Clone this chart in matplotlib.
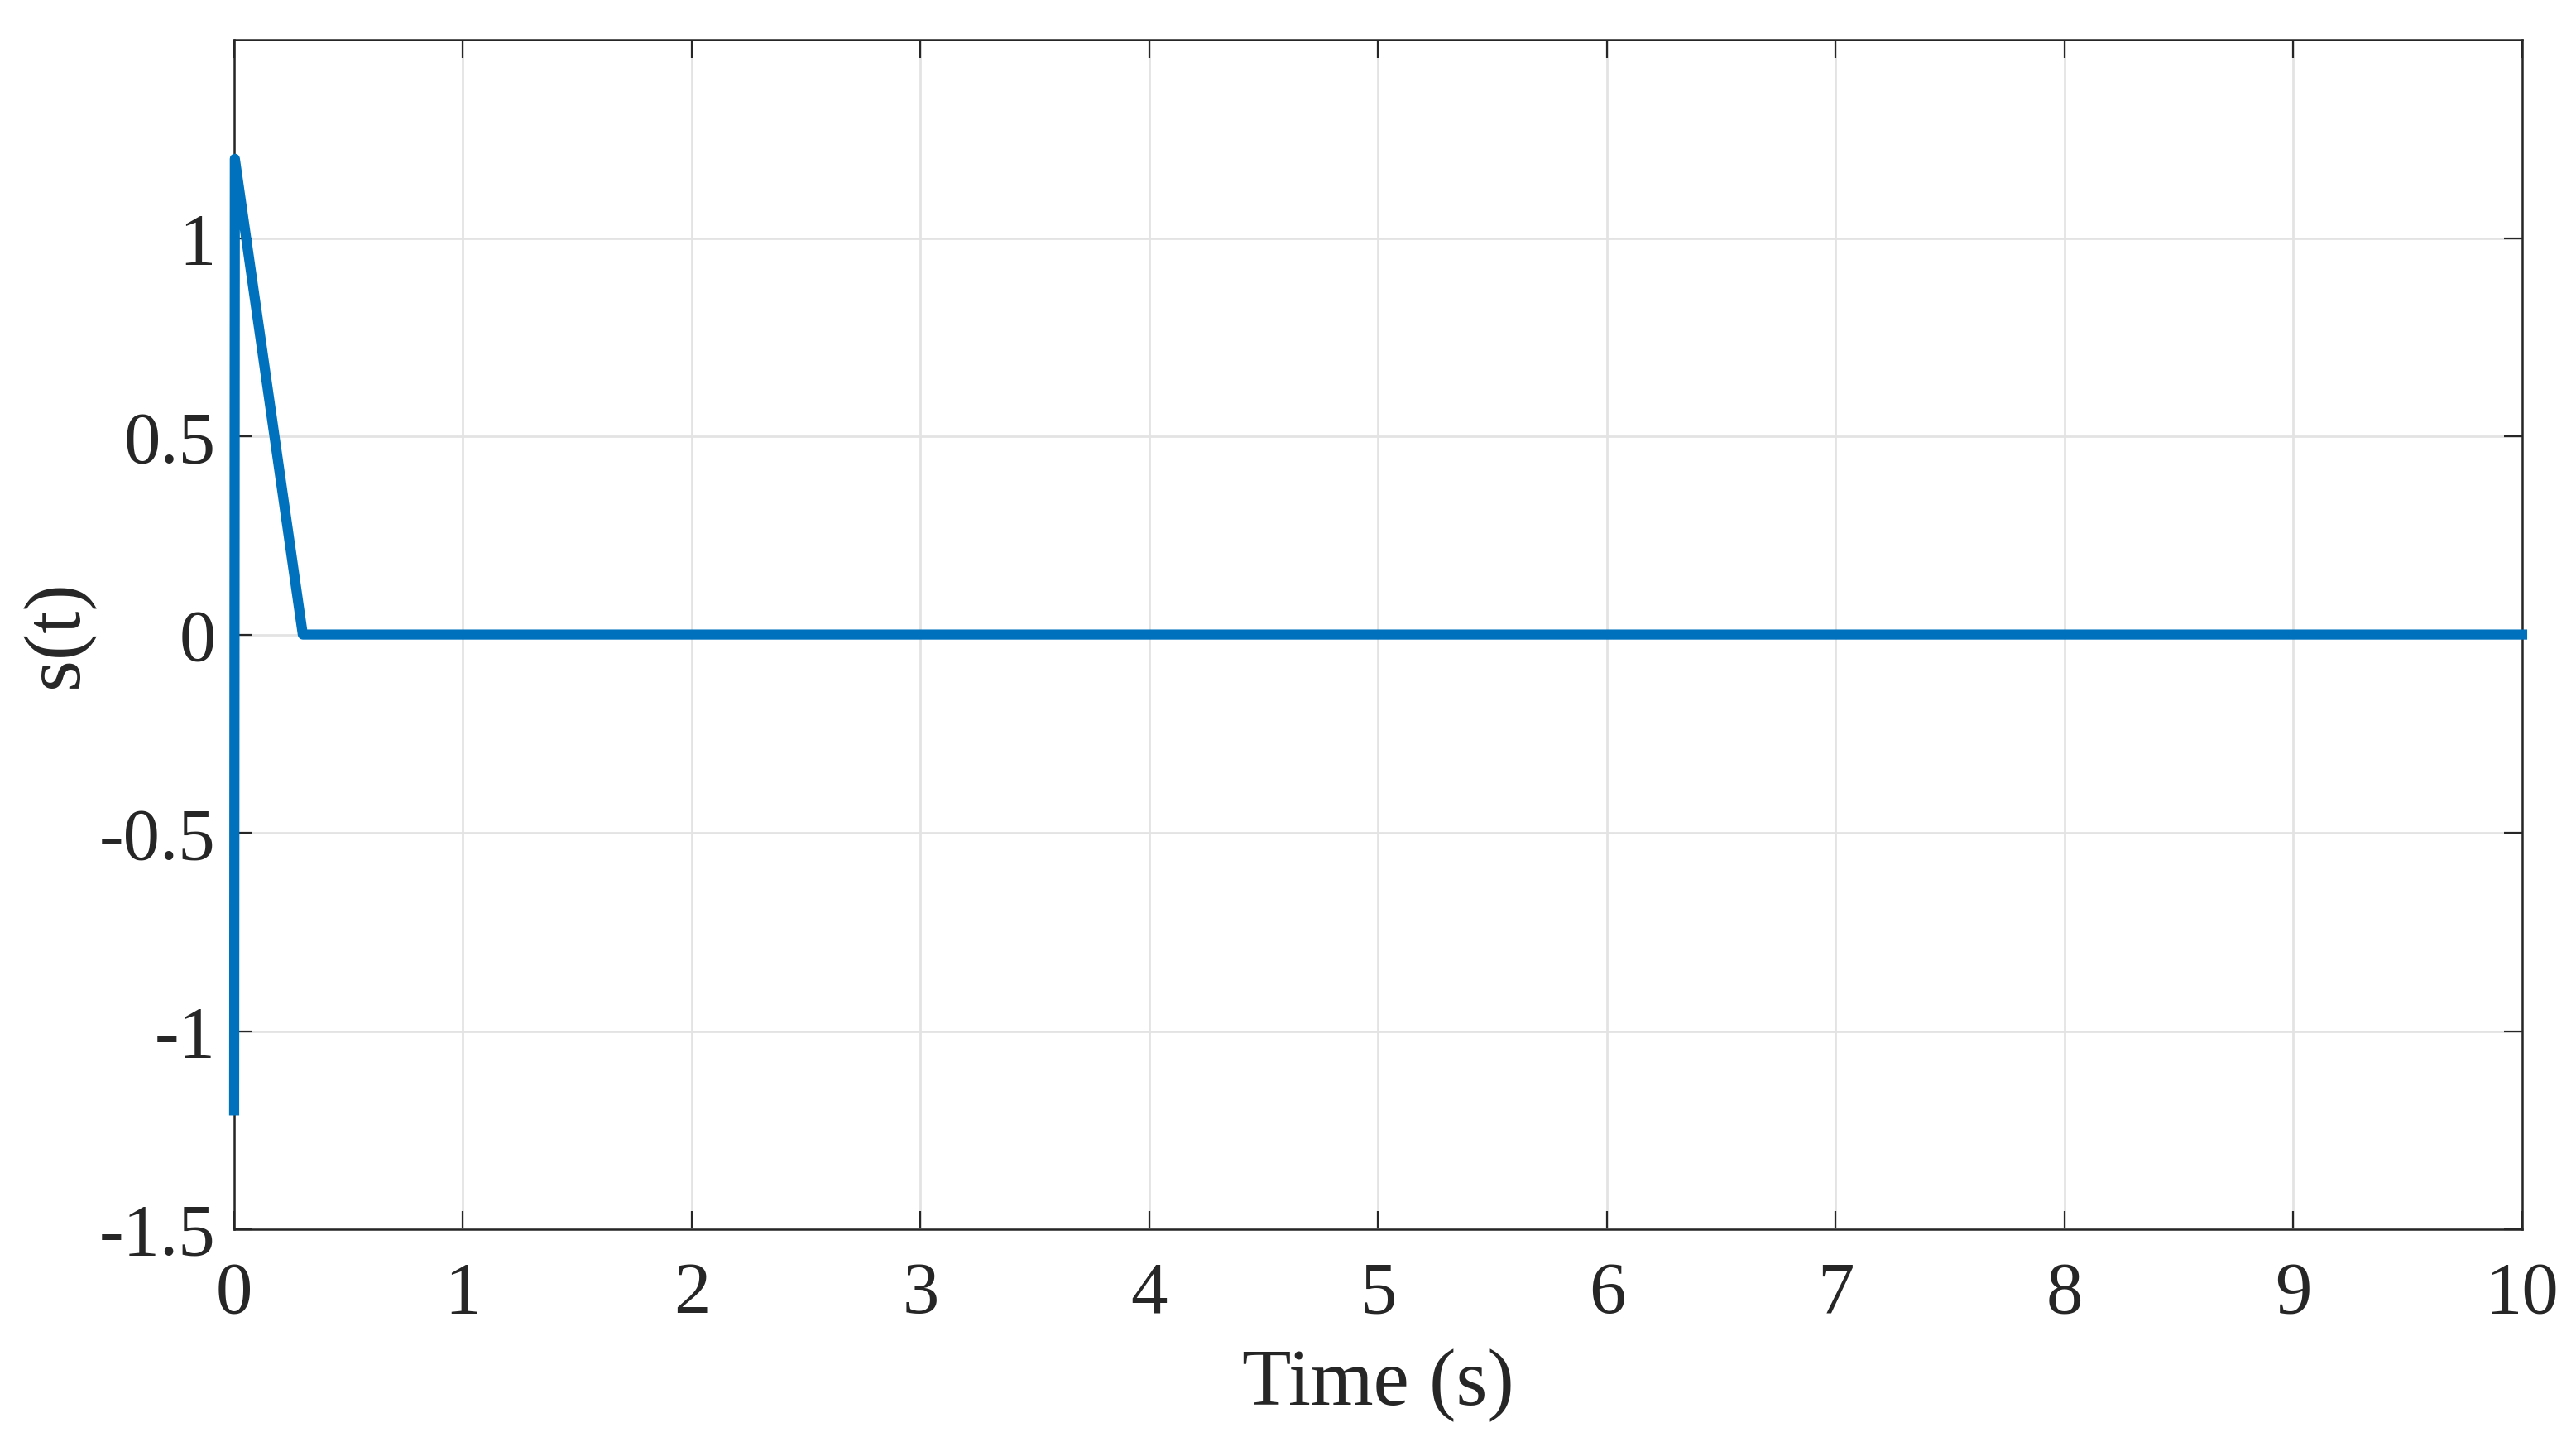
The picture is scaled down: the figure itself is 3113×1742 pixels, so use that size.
import matplotlib
matplotlib.use("Agg")
import matplotlib.pyplot as plt

# sliding variable s(t)
time_s = [0.0, 0.003, 0.3, 1.0, 2.0, 3.0, 4.0, 5.0, 6.0, 7.0, 8.0, 9.0, 10.0]
s_t = [-1.2, 1.2, 0.0, 0.0, 0.0, 0.0, 0.0, 0.0, 0.0, 0.0, 0.0, 0.0, 0.0]

xticks = list(range(0, 11))
yticks = [-1.5, -1, -0.5, 0, 0.5, 1]
ytick_labels = ["-1.5", "-1", "-0.5", "0", "0.5", "1"]

plt.rcParams["font.family"] = ["Liberation Serif", "DejaVu Serif"]

fig = plt.figure(figsize=(3113 / 200, 1742 / 200), dpi=200)
ax = fig.add_axes([0.0909, 0.1475, 0.9791 - 0.0909, 0.9724 - 0.1475])

line, = ax.plot(time_s, s_t, color="#0072BD", linewidth=4.4, zorder=3)
line.set_clip_on(False)

ax.set_xlim(0, 10)
ax.set_ylim(-1.5, 1.5)
ax.set_xticks(xticks)
ax.set_yticks(yticks)
ax.set_yticklabels(ytick_labels)
ax.grid(True, color="#e3e3e3", linewidth=1.0)
ax.set_axisbelow(True)

ax.tick_params(direction="in", length=8, width=0.8, top=True, right=True,
               labelsize=32, colors="#262626", pad=14)
ax.tick_params(axis="y", pad=8)
for sp in ax.spines.values():
    sp.set_color("#262626")
    sp.set_linewidth(0.9)

ax.set_xlabel("Time (s)", fontsize=35, color="#262626", labelpad=9)
ax.set_ylabel("s(t)", fontsize=35, color="#262626", labelpad=2)

fig.savefig("out.png", dpi=200, facecolor="white")
